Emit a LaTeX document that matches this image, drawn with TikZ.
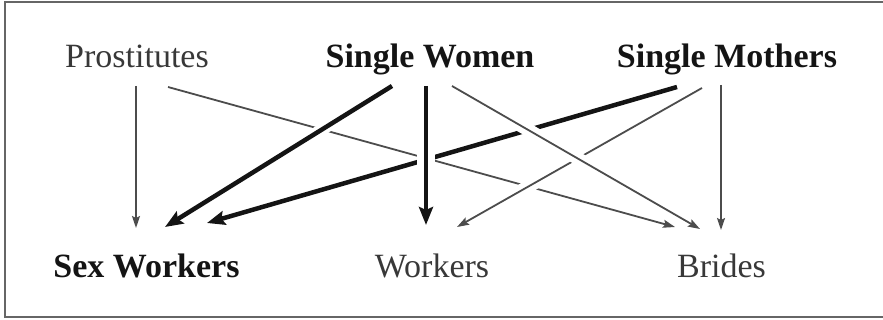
\documentclass[tikz,border=0pt]{standalone}
\usepackage{fontspec}
\setmainfont{Liberation Serif}
\usetikzlibrary{arrows.meta}
\definecolor{lineg}{gray}{0.3}
\definecolor{linek}{gray}{0.08}
\definecolor{textg}{gray}{0.22}
\definecolor{textk}{gray}{0.08}
\tikzset{
  lbl/.style={anchor=base, inner sep=0pt, font=\fontsize{34}{40}\selectfont},
  plainlbl/.style={lbl, text=textg},
  boldlbl/.style={lbl, text=textk, font=\fontsize{34}{40}\selectfont\bfseries},
  thinarr/.style={draw=lineg, line width=1.8pt, -{Stealth[length=12pt,width=8pt,inset=2pt]}},
  thickarr/.style={draw=linek, line width=4.5pt, -{Stealth[length=18pt,width=14pt,inset=3pt]}},
  halo/.style={preaction={draw=white, line width=#1, arrows=-, shorten <=16pt, shorten >=24pt}},
  frame/.style={draw=black!60, line width=2.5pt}
}
\begin{document}
\begin{tikzpicture}[x=1pt,y=-1pt]
\useasboundingbox (0,0) rectangle (883,320);
\draw[frame] (895,2) -- (5,2) -- (5,317) -- (895,317);
% labels
\node[plainlbl] (P)   at (137,68)  {Prostitutes};
\node[boldlbl]  (SW)  at (430,68)  {Single Women};
\node[boldlbl]  (SM)  at (727,68)  {Single Mothers};
\node[boldlbl]  (SxW) at (146.5,278) {Sex Workers};
\node[plainlbl] (W)   at (432,278) {Workers};
\node[plainlbl] (B)   at (721.5,278) {Brides};
% connectors (bottom to top order)
\draw[thinarr] ([shift={(-1,18)}]P.base) -- ([shift={(-10.5,-50)}]SxW.base);
\draw[thinarr] ([shift={(-6,17)}]SM.base) -- ([shift={(-0.5,-48)}]B.base);
\draw[thinarr] ([shift={(31,19)}]P.base) -- ([shift={(-46.5,-51)}]B.base);
\draw[thickarr] ([shift={(-50,19)}]SM.base) -- ([shift={(60.5,-55)}]SxW.base);
\draw[thinarr, halo=13pt] ([shift={(-25,20)}]SM.base) -- ([shift={(25,-51)}]W.base);
\draw[thinarr, halo=13pt] ([shift={(22,18)}]SW.base) -- ([shift={(-21.5,-49)}]B.base);
\draw[thickarr, halo=12pt] ([shift={(-38,18)}]SW.base) -- ([shift={(18.5,-51)}]SxW.base);
\draw[thickarr, halo=18pt] ([shift={(-4,18)}]SW.base) -- ([shift={(-6,-53)}]W.base);
\end{tikzpicture}
\end{document}
